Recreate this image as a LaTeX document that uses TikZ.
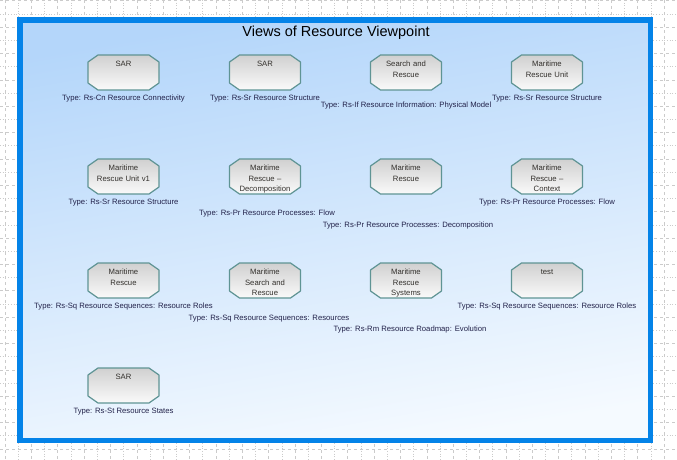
\documentclass[tikz,border=0pt]{standalone}
\usepackage{fontspec}
\setmainfont{Liberation Sans}
\usetikzlibrary{positioning}
\definecolor{FrameBlue}{HTML}{0483E8}
\definecolor{FrameTop}{HTML}{B4D6FA}
\definecolor{FrameBottom}{HTML}{F5FAFF}
\definecolor{ElemBorder}{HTML}{5F9494}
\definecolor{ElemTop}{HTML}{D0D0D0}
\definecolor{ElemBottom}{HTML}{FAFAFA}
\definecolor{ElemText}{HTML}{33302C}
\definecolor{TypeText}{HTML}{22224A}
\definecolor{GridGray}{HTML}{CBCBCB}
\pgfdeclarelayer{canvas}
\pgfdeclarelayer{shapes}
\pgfsetlayers{canvas,shapes,main}

\begin{document}
\begin{tikzpicture}[
  x=1pt, y=-1pt,
  gridline/.style={draw=GridGray, line width=0.7pt},
  frame/.style={
    draw=FrameBlue, line width=5.5pt, top color=FrameTop, bottom color=FrameBottom,
    shading angle=10
  },
  heading/.style={font=\fontsize{14.5}{17}\selectfont, text=black, inner sep=0pt},
  element/.style={
    rectangle, minimum width=71pt, minimum height=35pt, inner sep=1pt, outer sep=0pt,
    text width=66pt, align=center, text height=10.7pt, text depth=22.3pt,
    font=\fontsize{7.7}{10.5}\selectfont, text=ElemText
  },
  elemshape/.style={
    draw=ElemBorder, line width=1.2pt, line join=round,
    top color=ElemTop, bottom color=ElemBottom
  },
  typelabel/.style={inner sep=0pt, font=\fontsize{7.7}{9}\selectfont, text=TypeText}
]
\useasboundingbox (0,0) rectangle (677,460);

\begin{pgfonlayer}{canvas}
\fill[white] (0,0) rectangle (677,460);
\foreach \i in {0,2,...,50} {
  \draw[gridline, dashed] ({5.1+13.18*\i},0) -- ({5.1+13.18*\i},460);
}
\foreach \i in {1,3,...,51} {
  \draw[gridline, dotted] ({5.1+13.18*\i},0) -- ({5.1+13.18*\i},460);
}
\foreach \i in {0,2,...,34} {
  \draw[gridline, dashed] (0,{0.82+13.18*\i}) -- (677,{0.82+13.18*\i});
}
\foreach \i in {1,3,...,33} {
  \draw[gridline, dotted] (0,{0.82+13.18*\i}) -- (677,{0.82+13.18*\i});
}
\draw[frame] (19.75,20.25) rectangle (650.25,440.25);
\end{pgfonlayer}

\node[heading] (title) at (336,33) {Views of Resource Viewpoint};

\node[element] (sar1) at (123.5,72.5) {SAR};
\node[element] (sar2) at (265,72.5) {SAR};
\node[element] (searchrescue) at (406,72.5) {Search and\\Rescue};
\node[element] (mru) at (547,72.5) {Maritime\\Rescue Unit};

\node[element] (mru1) at (123.5,176.5) {Maritime\\Rescue Unit v1};
\node[element] (mrdecomp) at (265,176.5) {Maritime\\Rescue --\\Decomposition};
\node[element] (mr) at (406,176.5) {Maritime\\Rescue};
\node[element] (mrcontext) at (547,176.5) {Maritime\\Rescue --\\Context};

\node[element] (mrroles) at (123.5,280.5) {Maritime\\Rescue};
\node[element] (msar) at (265,280.5) {Maritime\\Search and\\Rescue};
\node[element] (mrsystems) at (406,280.5) {Maritime\\Rescue\\Systems};
\node[element] (test) at (547,280.5) {test};

\node[element] (sar3) at (123.5,385.5) {SAR};

\begin{pgfonlayer}{shapes}
\foreach \n in {sar1,sar2,searchrescue,mru,mru1,mrdecomp,mr,mrcontext,
                mrroles,msar,mrsystems,test,sar3} {
  \draw[elemshape] ([xshift=10pt]\n.north west) -- ([xshift=-10pt]\n.north east)
    -- ([yshift=-7pt]\n.north east) -- ([yshift=7pt]\n.south east)
    -- ([xshift=-10pt]\n.south east) -- ([xshift=10pt]\n.south west)
    -- ([yshift=7pt]\n.south west) -- ([yshift=-7pt]\n.north west) -- cycle;
}
\end{pgfonlayer}

\node[typelabel, below=5pt of sar1] (sar1type) {Type: Rs-Cn Resource Connectivity};
\node[typelabel, below=5pt of sar2] (sar2type) {Type: Rs-Sr Resource Structure};
\node[typelabel, below=11.5pt of searchrescue] (searchrescuetype)
  {Type: Rs-If Resource Information: Physical Model};
\node[typelabel, below=5pt of mru] (mrutype) {Type: Rs-Sr Resource Structure};

\node[typelabel, below=5pt of mru1] (mru1type) {Type: Rs-Sr Resource Structure};
\node[typelabel, below=16pt of mrdecomp, xshift=2pt] (mrdecomptype)
  {Type: Rs-Pr Resource Processes: Flow};
\node[typelabel, below=28pt of mr, xshift=2pt] (mrtype)
  {Type: Rs-Pr Resource Processes: Decomposition};
\node[typelabel, below=5pt of mrcontext] (mrcontexttype) {Type: Rs-Pr Resource Processes: Flow};

\node[typelabel, below=5pt of mrroles] (mrrolestype)
  {Type: Rs-Sq Resource Sequences: Resource Roles};
\node[typelabel, below=17pt of msar, xshift=4pt] (msartype)
  {Type: Rs-Sq Resource Sequences: Resources};
\node[typelabel, below=28pt of mrsystems, xshift=4pt] (mrsystemstype)
  {Type: Rs-Rm Resource Roadmap: Evolution};
\node[typelabel, below=5pt of test] (testtype) {Type: Rs-Sq Resource Sequences: Resource Roles};

\node[typelabel, below=5pt of sar3] (sar3type) {Type: Rs-St Resource States};
\end{tikzpicture}
\end{document}
